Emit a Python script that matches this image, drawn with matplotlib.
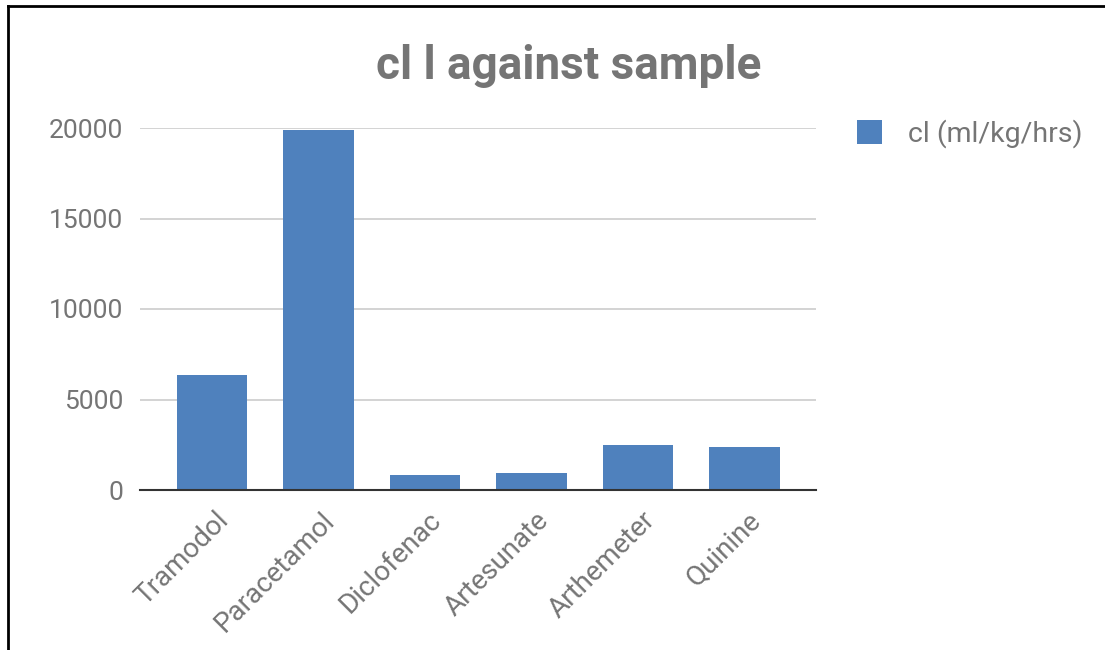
import numpy as np
import matplotlib.pyplot as plt
from matplotlib.lines import Line2D
from matplotlib.transforms import ScaledTranslation

plt.rcParams['font.family'] = ['Roboto', 'DejaVu Sans']

samples = ['Tramodol', 'Paracetamol', 'Diclofenac', 'Artesunate', 'Arthemeter', 'Quinine']
cl_values = [6350, 19900, 830, 960, 2490, 2370]
yticks = [0, 5000, 10000, 15000, 20000]

gray = '#757575'
blue = '#4f81bd'

fig = plt.figure(figsize=(11.05, 6.5), dpi=100)
ax = fig.add_axes([140/1105, 160/650, 676/1105, 362/650])

x = np.arange(len(samples))
ax.bar(x, cl_values, width=0.66, color=blue, label='cl (ml/kg/hrs)', zorder=3)

ax.set_xlim(-0.676, 5.67)
ax.set_ylim(0, 20000)
ax.set_yticks(yticks)
ax.set_yticklabels([str(v) for v in yticks], color=gray, fontsize=19)
ax.set_xticks(x)
ax.set_xticklabels(samples, rotation=45, ha='right', va='top', rotation_mode='anchor',
                   color=gray, fontsize=20)
ax.tick_params(axis='y', length=0, pad=12)
ax.tick_params(axis='x', length=0, pad=12)
shift = ScaledTranslation(0.03, 0, fig.dpi_scale_trans)
for lbl in ax.get_xticklabels():
    lbl.set_transform(lbl.get_transform() + shift)

ax.grid(axis='y', color='#cccccc', linewidth=1.2, zorder=0)
for side in ['top', 'right', 'left']:
    ax.spines[side].set_visible(False)
ax.spines['bottom'].set_color('#333333')
ax.spines['bottom'].set_linewidth(1.5)
ax.spines['bottom'].set_zorder(4)

fig.text(569/1105, 1 - 66/650, 'cl l against sample', ha='center', va='center',
         fontsize=33, fontweight='bold', color=gray)

ax.legend(loc='upper left', bbox_to_anchor=(831/1105, 1 - 94/650),
          bbox_transform=fig.transFigure, frameon=False, fontsize=20.5,
          labelcolor=gray, handlelength=0.9, handleheight=0.9, handletextpad=0.9)

# outer frame (left and top edges)
fig.add_artist(Line2D([8/1105, 8/1105], [0, 1 - 6/650], transform=fig.transFigure,
                      color='black', linewidth=2))
fig.add_artist(Line2D([8/1105, 1], [1 - 6/650, 1 - 6/650], transform=fig.transFigure,
                      color='black', linewidth=2))

fig.savefig('out.png', dpi=100)
